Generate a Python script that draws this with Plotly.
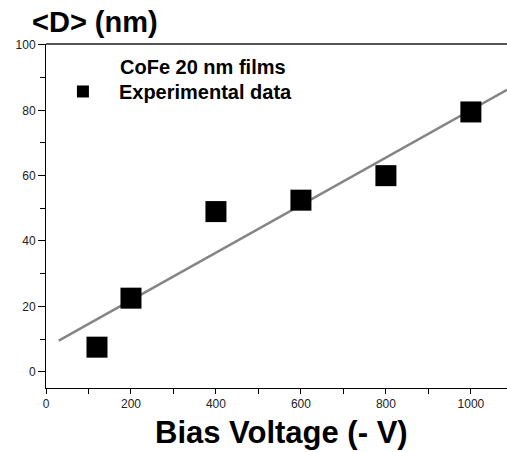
import plotly.graph_objects as go

# Data
bias_voltage = [120, 200, 400, 600, 800, 1000]
grain_size = [7.5, 22.5, 49, 52.5, 60, 79.5]

# Linear fit line endpoints
fit_x = [30, 1085]
fit_y = [9.5, 86.3]

x_ticks = [0, 200, 400, 600, 800, 1000]
y_ticks = [0, 20, 40, 60, 80, 100]

FONT = "Liberation Sans, Arial, sans-serif"

W, H = 507, 452

fig = go.Figure()
fig.add_trace(go.Scatter(
    x=fit_x, y=fit_y, mode="lines",
    line=dict(color="#858585", width=2.5),
    showlegend=False, hoverinfo="skip",
))
fig.add_trace(go.Scatter(
    x=bias_voltage, y=grain_size, mode="markers",
    name="Experimental data",
    marker=dict(symbol="square", size=21, color="black", line=dict(width=0)),
))

fig.update_layout(
    width=W, height=H,
    margin=dict(l=46, r=0, t=44, b=64),
    paper_bgcolor="white", plot_bgcolor="white",
    font=dict(family=FONT, color="#222222", size=12),
    showlegend=True,
    legend=dict(
        x=0.002, y=0.862, xanchor="left", yanchor="middle",
        bgcolor="rgba(0,0,0,0)", borderwidth=0,
        itemsizing="constant", itemwidth=62,
        font=dict(family=FONT, size=20, color="black", weight="bold"),
    ),
    xaxis=dict(
        range=[0, 1085], tickvals=x_ticks, showgrid=False, zeroline=False,
        showline=True, linecolor="black", linewidth=1,
        ticks="outside", ticklen=5, tickcolor="black", tickwidth=1,
        minor=dict(dtick=100, tick0=0, ticks="outside", ticklen=5, tickcolor="black", showgrid=False),
        tickfont=dict(size=12, color="#222222"),
    ),
    yaxis=dict(
        range=[-5, 100.3], tickvals=y_ticks, showgrid=False, zeroline=False,
        showline=True, linecolor="black", linewidth=1,
        ticks="outside", ticklen=7, tickcolor="black", tickwidth=1,
        minor=dict(dtick=10, tick0=0, ticks="outside", ticklen=5, tickcolor="black", showgrid=False),
        tickfont=dict(size=12, color="#222222"),
    ),
    shapes=[dict(type="line", xref="paper", yref="paper", x0=0, x1=1, y0=1, y1=1,
                 line=dict(color="#555555", width=2))],
    annotations=[
        dict(text="&lt;D&gt; (nm)", xref="paper", yref="paper", x=-0.035, y=1.115,
             xanchor="left", yanchor="top", showarrow=False,
             font=dict(family=FONT, size=29, color="black", weight="bold")),
        dict(text="Bias Voltage (- V)", xref="paper", yref="paper", x=0.51, y=-0.128,
             xanchor="center", yanchor="middle", showarrow=False,
             font=dict(family=FONT, size=31, color="black", weight="bold")),
        dict(text="CoFe 20 nm films", xref="paper", yref="paper", x=0.156, y=0.933,
             xanchor="left", yanchor="middle", showarrow=False,
             font=dict(family=FONT, size=20, color="black", weight="bold")),
    ],
)

fig.write_html(
    "out.html",
    config={"displayModeBar": False},
    post_script="document.body.style.margin='0';document.body.style.overflow='hidden';",
)
